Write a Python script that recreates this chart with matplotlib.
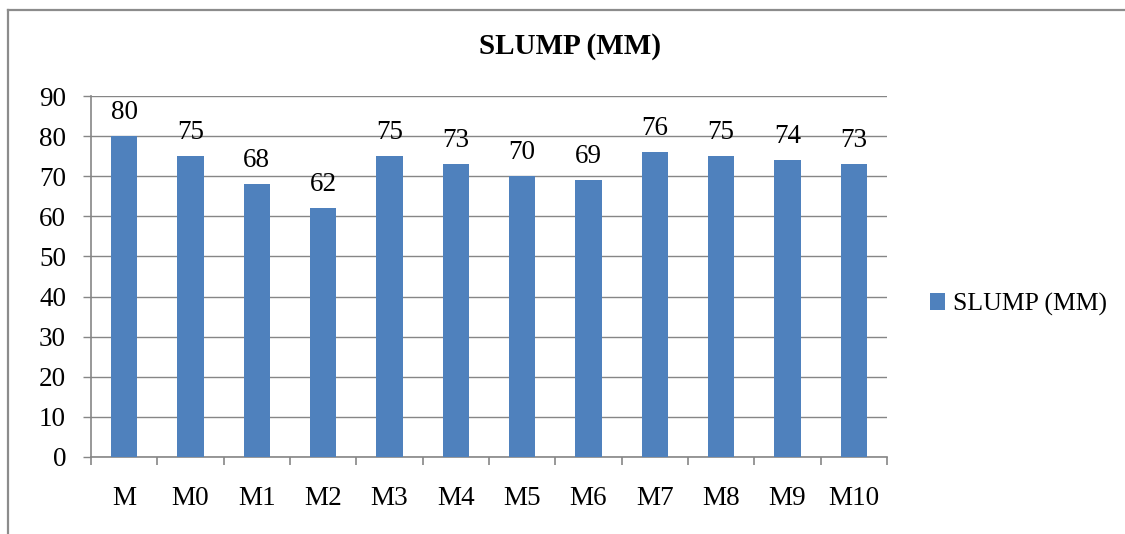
import matplotlib
matplotlib.use("Agg")
import matplotlib.pyplot as plt
from matplotlib.lines import Line2D
import numpy as np

categories = ["M", "M0", "M1", "M2", "M3", "M4", "M5", "M6", "M7", "M8", "M9", "M10"]
slump_mm = [80, 75, 68, 62, 75, 73, 70, 69, 76, 75, 74, 73]
y_ticks = [0, 10, 20, 30, 40, 50, 60, 70, 80, 90]
series_name = "SLUMP (MM)"
title = "SLUMP (MM)"

bar_color = "#4F81BD"
grid_color = "#868686"
serif = ["Liberation Serif", "DejaVu Serif"]
label_size = 19.5

fig = plt.figure(figsize=(11.25, 5.34), dpi=100)
ax = fig.add_axes([0.0809, 0.1442, 0.7075, 0.676])

x = np.arange(len(categories))
bars = ax.bar(x, slump_mm, width=0.4, color=bar_color, zorder=3, label=series_name)

for xi, v in zip(x, slump_mm):
    ax.annotate(str(v), (xi, v), xytext=(0, 8), textcoords="offset points",
                ha="center", va="bottom", fontsize=label_size, family=serif)

ax.set_xlim(-0.5, len(categories) - 0.5)
ax.set_ylim(0, 90)
ax.set_yticks(y_ticks)
ax.set_yticklabels([str(t) for t in y_ticks], fontsize=label_size, family=serif)
ax.yaxis.grid(True, color=grid_color, linewidth=1.0, zorder=0)
ax.set_axisbelow(True)

# category labels centred under bars, tick marks at category boundaries
ax.set_xticks(x)
ax.set_xticklabels(categories, fontsize=label_size, family=serif)
ax.tick_params(axis="x", length=0, pad=21)
ax.set_xticks(np.arange(len(categories) + 1) - 0.5, minor=True)
ax.tick_params(axis="x", which="minor", length=6, width=1.2, color=grid_color, direction="out")
ax.tick_params(axis="y", length=6, width=1.0, color=grid_color, direction="out", pad=12)

for side in ["top", "right"]:
    ax.spines[side].set_visible(False)
for side in ["left", "bottom"]:
    ax.spines[side].set_color(grid_color)
    ax.spines[side].set_linewidth(1.2)

fig.text(0.507, 0.912, title, ha="center", va="center", fontsize=21,
         fontweight="bold", family=serif)

leg = fig.legend(handles=[bars], labels=[series_name], loc="center left",
                 bbox_to_anchor=(0.806, 0.43), frameon=False,
                 prop={"family": serif, "size": 18.5},
                 handlelength=0.6, handleheight=0.6, handletextpad=0.3)

# outer chart frame
frame_kw = dict(color="#8C8C8C", linewidth=1.6, transform=fig.transFigure)
fig.add_artist(Line2D([0.0071, 0.0071], [0.0, 0.981], **frame_kw))
fig.add_artist(Line2D([0.0071, 1.0], [0.981, 0.981], **frame_kw))

fig.savefig("out.png", dpi=100)
